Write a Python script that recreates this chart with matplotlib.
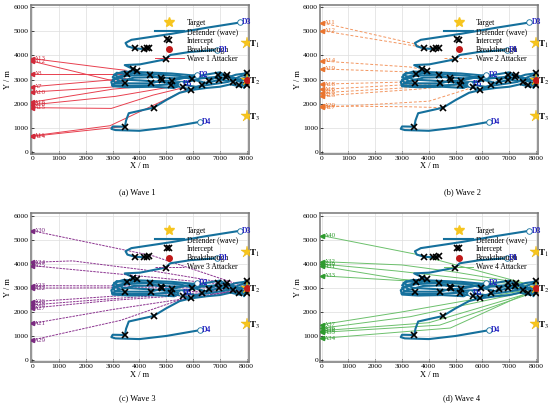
import matplotlib
matplotlib.use("Agg")
import matplotlib.pyplot as plt
from matplotlib.lines import Line2D

plt.rcParams['font.family'] = ['Liberation Serif', 'DejaVu Serif']
plt.rcParams['mathtext.fontset'] = 'stix'

# --- datos comunes ---
target_x = [8000, 8000, 8000]
target_y = [4500, 3000, 1500]
target_sub = ['1', '2', '3']

breakthrough_x = [8000]
breakthrough_y = [3000]

intercept_x = [3830, 4170, 4270, 4370, 5040, 4975, 3520, 3745, 3920, 4390,
               3470, 4415, 4790, 4825, 5200, 5175, 5635, 5920, 5945, 6320,
               6605, 6940, 6965, 7225, 7250, 7500, 7700, 8000, 8000, 4527, 3458]
intercept_y = [4290, 4270, 4290, 4320, 4670, 3840, 3230, 3420, 3365, 3190,
               2840, 2840, 3050, 2980, 2950, 2770, 2670, 2560, 3005, 2770,
               2935, 3185, 2980, 3090, 3185, 2910, 2770, 3280, 2770, 1830, 1040]

# trayectorias de los defensores (el ultimo punto es la posicion final)
d1 = [(3020, 2800), (3250, 2950), (3000, 3100), (3150, 3280), (3520, 3230), (3745, 3420),
      (3920, 3365), (3600, 3520), (3450, 3600), (4017, 3630), (4975, 3840), (5150, 4020),
      (5900, 4150), (6900, 4230)]
d2 = [(8000, 2800), (7700, 2770), (7500, 2910), (7000, 3000), (6500, 2850), (6000, 3000),
      (5500, 3150), (4500, 3220), (3500, 3150), (3000, 3000), (3100, 2850), (3470, 2840),
      (4415, 2840), (4800, 2950), (5200, 2950), (5600, 3050), (6150, 3200)]
d3 = [(4370, 4320), (4170, 4270), (3830, 4290), (3550, 4380), (3480, 4520), (3700, 4650),
      (5200, 4900), (6500, 5150), (7750, 5370)]
d4 = [(8000, 2850), (7800, 2700), (7400, 2800), (7000, 2700), (6500, 2650), (5900, 2560),
      (5500, 2450), (5000, 2150), (4527, 1830), (4000, 1700), (3600, 1600), (3500, 1300),
      (3458, 1040), (3000, 1050), (2950, 950), (3100, 900), (4000, 870), (5000, 1000),
      (6250, 1240)]
d5 = [(7950, 3300), (8050, 3100), (7700, 3000), (7250, 3185), (6940, 3185), (6605, 2935),
      (6320, 2770), (5920, 2560), (5635, 2670), (5175, 2770), (4825, 2980), (4790, 3050),
      (4390, 3190), (3800, 3260), (3200, 3120), (2950, 2900), (3000, 2720), (3600, 2680),
      (4500, 2700), (5300, 2650), (5550, 2800)]
d_extra = [(7900, 2650), (8050, 2900), (7950, 3250), (7600, 3200), (7200, 3050), (6800, 3100),
           (6300, 3050), (5800, 2900), (5000, 2880), (4200, 2950), (3400, 3000), (3050, 3200),
           (3400, 3330), (4200, 3300), (5200, 3250), (6200, 3150), (7000, 3300), (7500, 3000),
           (7900, 2850)]
d_extra2 = [(2980, 2760), (3700, 2740), (4600, 2760), (5400, 2820), (6100, 2700), (6700, 2800),
            (7300, 2900), (7800, 3150), (8050, 3200), (7850, 2950), (7300, 3100), (6700, 3050),
            (6000, 3100), (5300, 3050), (4600, 3100), (3800, 3080), (3200, 2900)]
defender_names = ['D1', 'D2', 'D3', 'D4', 'D5']

# oleada 1
wave1_names = ['A13', 'A12', 'A8', 'A7', 'A10', 'A18', 'A16', 'A15', 'A14', 'A11']
wave1_paths = [
    [(0, 3870), (2900, 3460), (3500, 3380)],
    [(0, 3760), (3000, 2950), (3450, 2850)],
    [(0, 3230), (2900, 3230), (3500, 3230)],
    [(0, 2700), (2900, 2980), (3500, 3050)],
    [(0, 2480), (2900, 2680), (3400, 2760)],
    [(0, 2060), (3000, 2600), (4500, 2750)],
    [(0, 1950), (3100, 2300), (5200, 2700)],
    [(0, 1830), (2950, 1800), (4500, 2350), (5600, 2650)],
    [(0, 640), (3000, 1000), (3450, 1050)],
    [(0, 660), (2900, 1080), (5800, 2600)],
]
# oleada 2
wave2_names = ['A11', 'A12', 'A14', 'A19', 'A18', 'A16', 'A15', 'A13', 'A20', 'A17']
wave2_paths = [
    [(0, 5360), (3400, 4500), (3830, 4300)],
    [(0, 5030), (3300, 4430), (4170, 4270)],
    [(0, 3770), (3300, 3520), (3745, 3420)],
    [(0, 3440), (3200, 3320), (3520, 3230)],
    [(0, 2810), (3300, 2900), (3470, 2840)],
    [(0, 2590), (3400, 2800), (4415, 2840)],
    [(0, 2450), (3500, 2680), (4800, 2980)],
    [(0, 2320), (3600, 2600), (5175, 2770)],
    [(0, 1900), (3200, 1870), (4527, 1830)],
    [(0, 1840), (4000, 2100), (5635, 2670)],
]
# oleada 3
wave3_names = ['A30', 'A24', 'A25', 'A23', 'A22', 'A26', 'A28', 'A27', 'A21', 'A29']
wave3_paths = [
    [(0, 5370), (4500, 4330), (7400, 3250), (7950, 3050)],
    [(0, 4060), (1500, 4120), (4500, 3700), (7500, 3150)],
    [(0, 3920), (3000, 3600), (7600, 3100)],
    [(0, 3090), (3000, 3080), (7500, 3050)],
    [(0, 2990), (3000, 3000), (7700, 3000)],
    [(0, 2420), (3000, 2650), (7600, 2950)],
    [(0, 2290), (3000, 2550), (7700, 2900)],
    [(0, 2160), (3000, 2480), (7800, 2850)],
    [(0, 1520), (3000, 2100), (6000, 2600), (7900, 2900)],
    [(0, 830), (3300, 1650), (5500, 2500), (7900, 2950)],
]
# oleada 4
wave4_names = ['A40', 'A32', 'A39', 'A31', 'A33', 'A37', 'A36', 'A38', 'A35', 'A34']
wave4_paths = [
    [(0, 5170), (3500, 4400), (7700, 3150)],
    [(0, 4090), (3000, 3950), (5000, 3650), (7700, 3150)],
    [(0, 3990), (2800, 3700), (7600, 3100)],
    [(0, 3900), (3000, 3350), (7500, 3050)],
    [(0, 3500), (3000, 3300), (7400, 3000)],
    [(0, 1470), (3000, 2000), (7600, 2900)],
    [(0, 1320), (3300, 1800), (7700, 2850)],
    [(0, 1220), (4000, 1550), (7800, 2800)],
    [(0, 1150), (4400, 1450), (7900, 2800)],
    [(0, 900), (4800, 1330), (7900, 2900)],
]

def_color = '#15709c'
panel_rects = [[0.0558, 0.6216, 0.397, 0.366], [0.582, 0.6216, 0.397, 0.366],
               [0.0558, 0.1098, 0.397, 0.366], [0.582, 0.1098, 0.397, 0.366]]
waves = [
    (wave1_names, wave1_paths, '#e8404f', '#d02a3a', '-', '(a) Wave 1'),
    (wave2_names, wave2_paths, '#f39660', '#ea742e', (0, (3, 2)), '(b) Wave 2'),
    (wave3_names, wave3_paths, '#8c3490', '#7a2a80', (0, (2.5, 1)), '(c) Wave 3'),
    (wave4_names, wave4_paths, '#6cc06c', '#2e9a2e', '-', '(d) Wave 4'),
]
caption_pos = [(0.25, 0.528), (0.84, 0.528), (0.25, 0.022), (0.84, 0.022)]

fig = plt.figure(figsize=(5.5, 4.07), dpi=100)

for k, (names, paths, col, lcol, ls, caption) in enumerate(waves):
    ax = fig.add_axes(panel_rects[k])
    # atacantes
    for nm, p in zip(names, paths):
        xs = [q[0] for q in p]
        ys = [q[1] for q in p]
        ax.plot(xs, ys, color=col, lw=0.7, ls=ls, zorder=2)
        ax.plot(xs[0], ys[0], marker='<', ms=3, color=lcol, zorder=3)
        ax.text(xs[0] + 70, ys[0], nm, color=lcol, fontsize=5, va='center', ha='left', zorder=3)
    # defensores
    for path in [d_extra, d_extra2, d1, d2, d3, d4, d5]:
        ax.plot([q[0] for q in path], [q[1] for q in path], color=def_color, lw=1.5,
                zorder=4, solid_capstyle='round', solid_joinstyle='round')
    for nm, path in zip(defender_names, [d1, d2, d3, d4, d5]):
        ax.plot(path[-1][0], path[-1][1], 'o', ms=4, mfc='white', mec=def_color, mew=0.6, zorder=5)
        ax.text(path[-1][0] + 80, path[-1][1], nm, color='#2020c0', fontsize=5.5,
                fontweight='bold', va='center', ha='left', zorder=6)
    ax.plot(intercept_x, intercept_y, 'x', color='black', ms=4.5, mew=1.2, zorder=6)
    ax.plot(target_x, target_y, '*', color='#f7c51e', ms=9, mec='#e8b000', mew=0.3, zorder=7)
    ax.plot(breakthrough_x, breakthrough_y, 'o', color='#c01818', ms=4, zorder=8)
    for tx, ty, s in zip(target_x, target_y, target_sub):
        ax.text(tx + 90, ty - 60, r'$\mathbf{T}_{%s}$' % s, fontsize=6.5, ha='left', va='center',
                clip_on=False, zorder=9)

    ax.set_xlim(-60, 8090)
    ax.set_ylim(-95, 6095)
    ax.set_xticks(range(0, 8001, 1000))
    ax.set_yticks(range(0, 6001, 1000))
    ax.grid(True, color='#dddddd', lw=0.5, zorder=0)
    ax.set_axisbelow(True)
    ax.tick_params(direction='in', length=2, width=0.5, labelsize=5.4, pad=1.5)
    for sp in ax.spines.values():
        sp.set_color('#777777')
        sp.set_linewidth(1.1)
    ax.set_xlabel('X / m', fontsize=6, labelpad=1)
    ax.set_ylabel('Y / m', fontsize=6, labelpad=1)

    handles = [
        Line2D([], [], marker='*', ls='none', color='#f7c51e', ms=7),
        Line2D([], [], color=def_color, lw=1.5),
        Line2D([], [], marker='x', ls='none', color='black', ms=4.5, mew=1.2),
        Line2D([], [], marker='o', ls='none', color='#c01818', ms=4),
        Line2D([], [], color=col, lw=0.7, ls=ls),
    ]
    labels = ['Target', 'Defender (wave)', 'Intercept', 'Breakthrough', 'Wave %d Attacker' % (k + 1)]
    ax.legend(handles, labels, loc='upper left', bbox_to_anchor=(0.55, 0.935), frameon=False,
              fontsize=5.5, handlelength=3.8, handletextpad=0.4, labelspacing=0.15, borderpad=0)

    fig.text(caption_pos[k][0], caption_pos[k][1], caption, fontsize=6, ha='center', va='center')

fig.savefig('out.png', dpi=100)
